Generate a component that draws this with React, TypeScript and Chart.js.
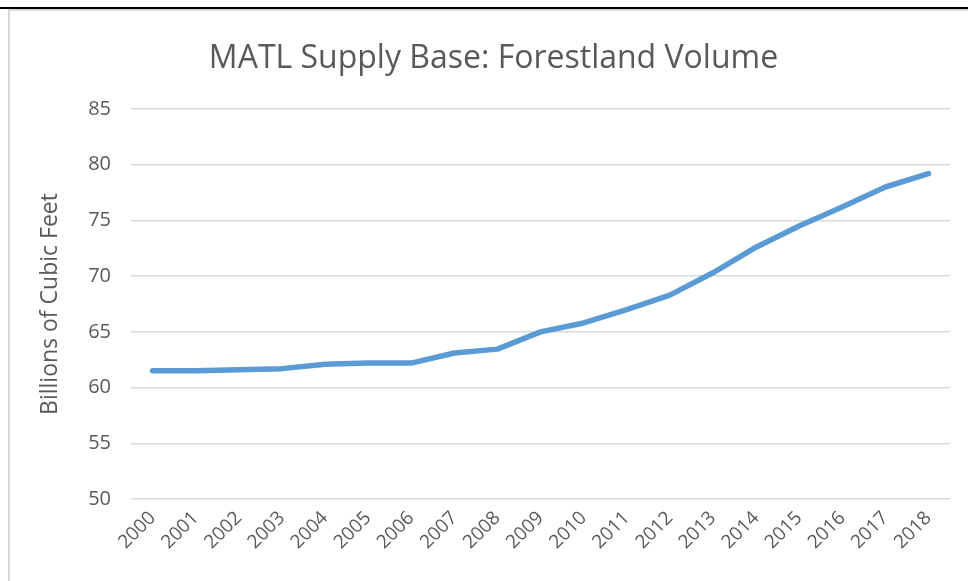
import React, { useEffect, useRef } from "react";
import { Chart, registerables } from "chart.js";

Chart.register(...registerables);

const years = [
  "2000", "2001", "2002", "2003", "2004", "2005", "2006", "2007", "2008", "2009",
  "2010", "2011", "2012", "2013", "2014", "2015", "2016", "2017", "2018",
];
const volume = [
  61.5, 61.5, 61.6, 61.7, 62.1, 62.2, 62.2, 63.1, 63.45, 65.0,
  65.8, 67.0, 68.3, 70.3, 72.6, 74.5, 76.2, 78.0, 79.2,
];
const yMin = 50;
const yMax = 85;
const yStep = 5;
const chartTitle = "MATL Supply Base: Forestland Volume";
const yAxisTitle = "Billions of Cubic Feet";

const FONT = "'Open Sans', 'Noto Sans', sans-serif";
const GRAY = "#595959";

export default function App() {
  const ref = useRef<HTMLCanvasElement | null>(null);

  useEffect(() => {
    if (!ref.current) return;
    const chart = new Chart(ref.current, {
      type: "line",
      data: {
        labels: years,
        datasets: [
          {
            data: volume,
            borderColor: "#5B9BD5",
            borderWidth: 5.5,
            pointRadius: 0,
            tension: 0,
            borderCapStyle: "round",
            borderJoinStyle: "round",
            fill: false,
          },
        ],
      },
      options: {
        animation: false,
        responsive: false,
        maintainAspectRatio: false,
        layout: { padding: { left: 37, right: 18, top: 0, bottom: 0 } },
        plugins: {
          legend: { display: false },
          tooltip: { enabled: false },
          title: {
            display: true,
            text: chartTitle,
            color: GRAY,
            font: { family: FONT, size: 32, weight: "normal" },
            padding: { top: 40, bottom: 30.6 },
          },
        },
        scales: {
          x: {
            offset: true,
            grid: { display: false, drawTicks: false },
            border: { display: false },
            ticks: {
              color: GRAY,
              font: { family: FONT, size: 19 },
              maxRotation: 45,
              minRotation: 45,
              autoSkip: false,
              padding: 8,
            },
            afterFit: (s: any) => {
              s.height = 82;
            },
          },
          y: {
            min: yMin,
            max: yMax,
            grid: { color: "#D9D9D9", lineWidth: 1.5, drawTicks: false },
            border: { display: false },
            ticks: {
              stepSize: yStep,
              color: GRAY,
              font: { family: FONT, size: 20 },
              padding: 20,
            },
            title: {
              display: true,
              text: yAxisTitle,
              color: GRAY,
              font: { family: FONT, size: 23 },
              padding: { top: 0, bottom: 0 },
            },
            afterFit: (s: any) => {
              s.width = 94;
            },
          },
        },
      },
    });
    return () => chart.destroy();
  }, []);

  return (
    <div
      style={{
        position: "fixed",
        left: 0,
        top: 0,
        width: 968,
        height: 581,
        background: "#fff",
        overflow: "hidden",
      }}
    >
      <canvas
        ref={ref}
        width={968}
        height={581}
        style={{ position: "absolute", left: 0, top: 0, width: 968, height: 581 }}
      />
      <div style={{ position: "absolute", left: 0, top: 7, width: 968, height: 2, background: "#000" }} />
      <div style={{ position: "absolute", left: 8, top: 9, width: 960, height: 2, background: "#D9D9D9" }} />
      <div style={{ position: "absolute", left: 8, top: 9, width: 2, height: 572, background: "#D9D9D9" }} />
    </div>
  );
}
